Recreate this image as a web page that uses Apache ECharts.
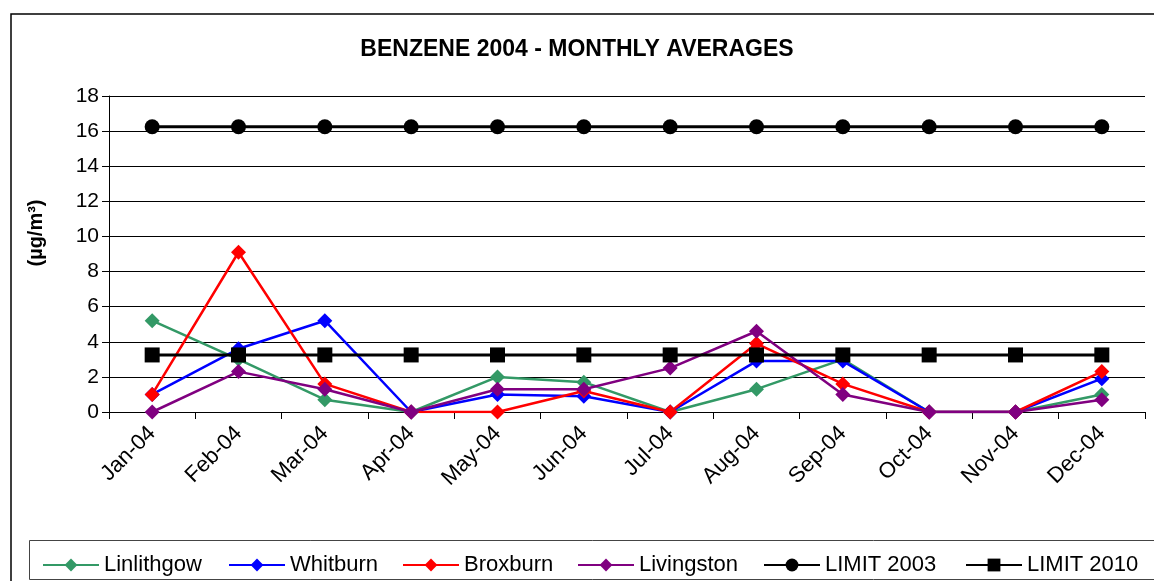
<!DOCTYPE html>
<html>
<head>
<meta charset="utf-8">
<title>Benzene 2004</title>
<script src="https://cdn.jsdelivr.net/npm/echarts@6/dist/echarts.min.js"></script>
<style>
  html, body { margin: 0; padding: 0; background: #fff; }
  #chart { width: 1154px; height: 581px; }
</style>
</head>
<body>
<div id="chart"></div>
<script>
// months on the x axis
const months = ['Jan-04', 'Feb-04', 'Mar-04', 'Apr-04', 'May-04', 'Jun-04',
  'Jul-04', 'Aug-04', 'Sep-04', 'Oct-04', 'Nov-04', 'Dec-04']

// monthly averages (µg/m³)
const linlithgow = [5.2, 3.0, 0.7, 0, 2.0, 1.7, 0, 1.3, 3.0, 0, 0, 1.0]
const whitburn = [1.0, 3.6, 5.2, 0, 1.0, 0.9, 0, 2.9, 2.9, 0, 0, 1.9]
const broxburn = [1.0, 9.1, 1.6, 0, 0, 1.2, 0, 3.9, 1.6, 0, 0, 2.3]
const livingston = [0, 2.3, 1.3, 0, 1.3, 1.3, 2.5, 4.6, 1.0, 0, 0, 0.7]
const limit2003 = [16.25, 16.25, 16.25, 16.25, 16.25, 16.25, 16.25, 16.25, 16.25, 16.25, 16.25, 16.25]
const limit2010 = [3.25, 3.25, 3.25, 3.25, 3.25, 3.25, 3.25, 3.25, 3.25, 3.25, 3.25, 3.25]

const yTicks = [0, 2, 4, 6, 8, 10, 12, 14, 16, 18]

const chart = echarts.init(document.getElementById('chart'))

const FONT = 'Liberation Sans, Arial, sans-serif'

// one line series with its marker
const makeSeries = (name, data, color, symbol, size, width) => ({
  name,
  type: 'line',
  data,
  symbol,
  symbolSize: size,
  showSymbol: true,
  lineStyle: { color, width },
  itemStyle: { color, borderWidth: 0 },
  emphasis: { disabled: true }
})

const series = [
  makeSeries('Linlithgow', linlithgow, '#339966', 'diamond', 15, 2.5),
  makeSeries('Whitburn', whitburn, '#0000ff', 'diamond', 15, 2.5),
  makeSeries('Broxburn', broxburn, '#ff0000', 'diamond', 15, 2.5),
  makeSeries('Livingston', livingston, '#800080', 'diamond', 15, 2.5),
  makeSeries('LIMIT 2003', limit2003, '#000000', 'circle', 15, 3),
  makeSeries('LIMIT 2010', limit2010, '#000000', 'rect', 15, 3)
]

// each legend entry placed on its own, like the reference
const legendLefts = [37, 223, 397, 572, 758, 960]
const legends = series.map((s, i) => ({
  data: [s.name],
  left: legendLefts[i],
  top: 549,
  itemWidth: 56,
  itemHeight: 16,
  itemGap: 0,
  selectedMode: false,
  textStyle: { fontFamily: FONT, fontSize: 22, color: '#000' }
}))

const option = {
  animation: false,
  backgroundColor: '#fff',
  title: {
    text: 'BENZENE 2004 - MONTHLY AVERAGES',
    left: 'center',
    top: 33,
    textStyle: { fontFamily: FONT, fontSize: 23, fontWeight: 'bold', color: '#000' }
  },
  legend: legends,
  graphic: [
    // outer frame (top and left edges only show in the picture)
    { type: 'polyline', shape: { points: [[11, 581], [11, 14], [1154, 14]] }, style: { stroke: '#000', lineWidth: 1.5, fill: null } },
    // legend box
    { type: 'rect', shape: { x: 29.5, y: 540.5, width: 1130, height: 39 }, style: { stroke: '#444', lineWidth: 1, fill: null }, z: -1 },
    {
      type: 'text',
      x: 36,
      y: 233,
      rotation: Math.PI / 2,
      style: { text: '(µg/m³)', fontFamily: FONT, fontSize: 20, fontWeight: 'bold', fill: '#000', align: 'center', verticalAlign: 'middle' }
    }
  ],
  grid: { left: 109, right: 9, top: 96, bottom: 169, containLabel: false },
  xAxis: {
    type: 'category',
    data: months,
    boundaryGap: true,
    axisLine: { lineStyle: { color: '#000', width: 1 } },
    axisTick: { show: true, length: 7, lineStyle: { color: '#000' } },
    axisLabel: { rotate: 45, margin: 18, fontFamily: FONT, fontSize: 22, color: '#000' },
    splitLine: { show: false }
  },
  yAxis: {
    type: 'value',
    min: yTicks[0],
    max: yTicks[yTicks.length - 1],
    interval: 2,
    axisLine: { show: true, lineStyle: { color: '#000', width: 1 } },
    axisTick: { show: true, length: 7, lineStyle: { color: '#000' } },
    axisLabel: { margin: 10, fontFamily: FONT, fontSize: 21, color: '#000' },
    splitLine: { show: true, lineStyle: { color: '#000', width: 1 } }
  },
  series
}

chart.setOption(option)
</script>
</body>
</html>
